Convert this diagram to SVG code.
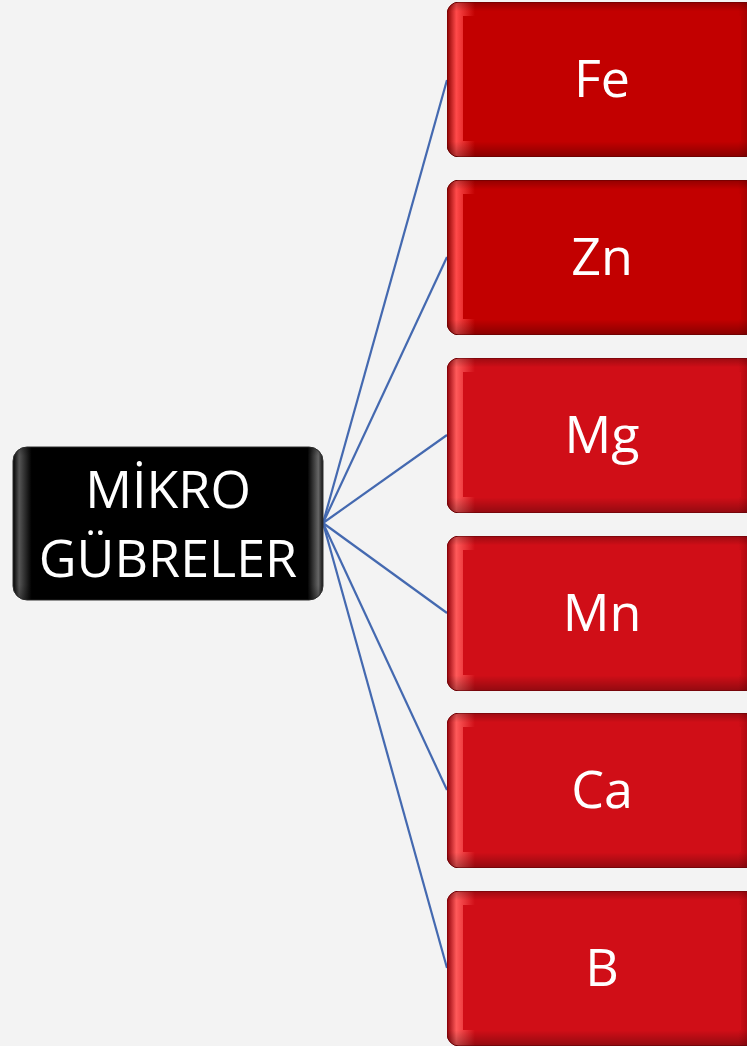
<svg xmlns="http://www.w3.org/2000/svg" width="747" height="1046" viewBox="0 0 747 1046">
  <defs>
    <style>
      .lbl { font-family: "Open Sans", "Liberation Sans", sans-serif; font-size: 52px; fill: #ffffff; text-anchor: middle; }
      .link { stroke: #4469b0; stroke-width: 2.2; fill: none; }
    </style>
    <!-- bevel edge shading for the red tiles -->
    <linearGradient id="redEdgeA" x1="0" y1="0" x2="1" y2="0">
      <stop offset="0" stop-color="#8a0000"/>
      <stop offset="0.03" stop-color="#ff4a4a"/>
      <stop offset="0.09" stop-color="#c20000"/>
      <stop offset="0.94" stop-color="#c20000"/>
      <stop offset="1" stop-color="#8a0000"/>
    </linearGradient>
    <linearGradient id="redEdgeB" x1="0" y1="0" x2="1" y2="0">
      <stop offset="0" stop-color="#900008"/>
      <stop offset="0.03" stop-color="#ff5a5a"/>
      <stop offset="0.09" stop-color="#d00e17"/>
      <stop offset="0.94" stop-color="#d00e17"/>
      <stop offset="1" stop-color="#900008"/>
    </linearGradient>
    <linearGradient id="vShade" x1="0" y1="0" x2="0" y2="1">
      <stop offset="0" stop-color="#000" stop-opacity="0.25"/>
      <stop offset="0.06" stop-color="#000" stop-opacity="0"/>
      <stop offset="0.9" stop-color="#000" stop-opacity="0"/>
      <stop offset="1" stop-color="#000" stop-opacity="0.3"/>
    </linearGradient>
    <linearGradient id="blackEdge" x1="0" y1="0" x2="1" y2="0">
      <stop offset="0" stop-color="#000"/>
      <stop offset="0.02" stop-color="#555"/>
      <stop offset="0.06" stop-color="#000"/>
      <stop offset="0.95" stop-color="#000"/>
      <stop offset="0.985" stop-color="#666"/>
      <stop offset="1" stop-color="#111"/>
    </linearGradient>
    <symbol id="tileA" viewBox="0 0 310 155">
      <rect x="0" y="0" width="310" height="155" rx="12" fill="url(#redEdgeA)" stroke="#7a0000" stroke-width="1"/>
      <rect x="0" y="0" width="310" height="155" rx="12" fill="url(#vShade)"/>
      <rect x="16" y="14" width="278" height="125" fill="#c20000"/>
    </symbol>
    <symbol id="tileB" viewBox="0 0 310 155">
      <rect x="0" y="0" width="310" height="155" rx="12" fill="url(#redEdgeB)" stroke="#800006" stroke-width="1"/>
      <rect x="0" y="0" width="310" height="155" rx="12" fill="url(#vShade)"/>
      <rect x="16" y="14" width="278" height="125" fill="#d00e17"/>
    </symbol>
  </defs>

  <rect width="747" height="1046" fill="#f3f3f3"/>

  <!-- spokes from the central node -->
  <g id="connectors">
    <line class="link" x1="323" y1="523" x2="447" y2="80"/>
    <line class="link" x1="323" y1="523" x2="447" y2="257"/>
    <line class="link" x1="323" y1="523" x2="447" y2="435"/>
    <line class="link" x1="323" y1="523" x2="447" y2="613"/>
    <line class="link" x1="323" y1="523" x2="447" y2="790"/>
    <line class="link" x1="323" y1="523" x2="447" y2="968"/>
  </g>

  <g id="center">
    <rect x="13" y="447" width="310" height="153" rx="14" fill="url(#blackEdge)" stroke="#333" stroke-width="1"/>
    <rect x="13" y="447" width="310" height="153" rx="14" fill="url(#vShade)"/>
    <text class="lbl" x="168" y="508">MİKRO</text>
    <text class="lbl" x="168" y="577">GÜBRELER</text>
  </g>

  <g id="fe">
    <use href="#tileA" x="447" y="2" width="310" height="155"/>
    <text class="lbl" x="602" y="97">Fe</text>
  </g>
  <g id="zn">
    <use href="#tileA" x="447" y="180" width="310" height="155"/>
    <text class="lbl" x="602" y="275">Zn</text>
  </g>
  <g id="mg">
    <use href="#tileB" x="447" y="358" width="310" height="155"/>
    <text class="lbl" x="602" y="453">Mg</text>
  </g>
  <g id="mn">
    <use href="#tileB" x="447" y="536" width="310" height="155"/>
    <text class="lbl" x="602" y="631">Mn</text>
  </g>
  <g id="ca">
    <use href="#tileB" x="447" y="713" width="310" height="155"/>
    <text class="lbl" x="602" y="808">Ca</text>
  </g>
  <g id="b">
    <use href="#tileB" x="447" y="891" width="310" height="155"/>
    <text class="lbl" x="602" y="986">B</text>
  </g>
</svg>
